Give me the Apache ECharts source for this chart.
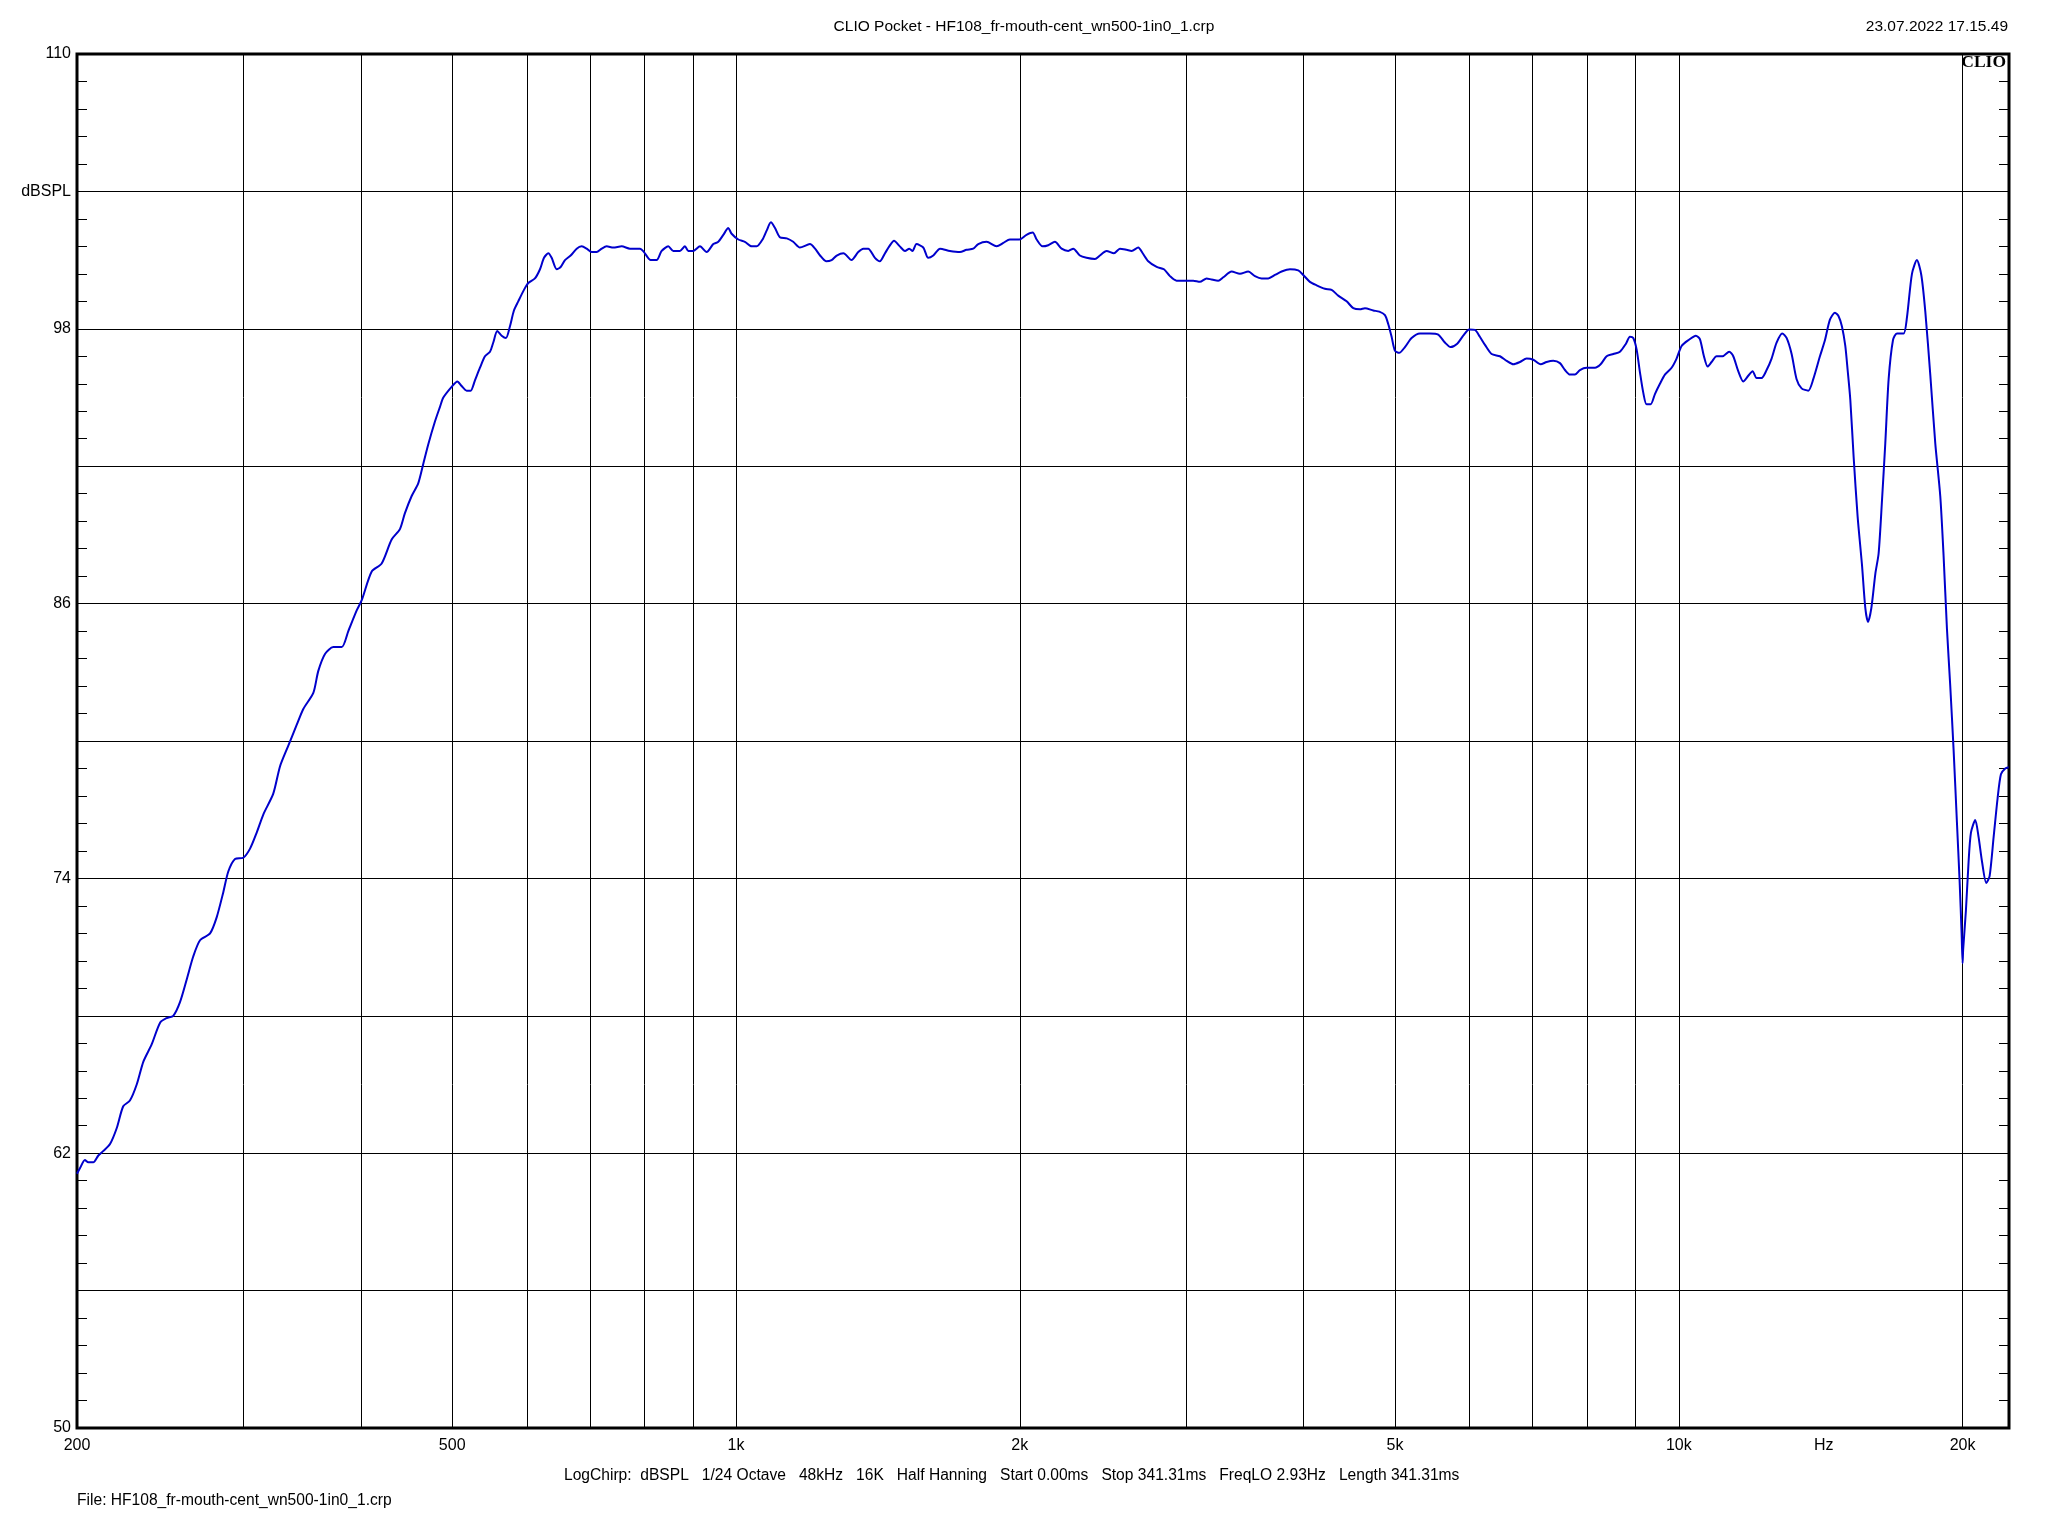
<!DOCTYPE html>
<html>
<head>
<meta charset="utf-8">
<script src="https://cdn.jsdelivr.net/npm/echarts@6/dist/echarts.min.js"></script>
<style>
html,body{margin:0;padding:0;background:#fff;}
#chart{width:2048px;height:1536px;}
</style>
</head>
<body>
<div id="chart"></div>
<script>
// ---- Data (frequency in Hz, level in dBSPL) ----
const riseHz = [200,201.5,203.9,205.6,208.1,210.7,213.3,216.8,220.4,223.9,227.6,231.4,235.2,240,245,249,253,257.2,261.5,265.7,270.1,276.8,281.3,285.9,289.4,294.2,300.2,305.2,310.2,315.3,323,328.4,335.1,342,347.6,356.2,360.5,366.5,374,381.8,388,396,400.9,410.8,420.9,431.3,440.1,445.5,452.9,460.2,465.9,471.6,479.4];
const riseDb = [61.1,61.35,61.7,61.6,61.6,61.9,62.1,62.4,63.1,64.05,64.3,65.0,66.0,66.75,67.7,67.9,68.0,68.6,69.6,70.6,71.3,71.6,72.3,73.4,74.3,74.85,74.9,75.3,76.0,76.8,77.7,78.9,79.8,80.7,81.4,82.1,83.05,83.8,84.1,84.1,84.8,85.7,86.15,87.4,87.75,88.8,89.25,89.95,90.7,91.25,92.1,92.95,93.95];

const midHz = [485.4,489.3,500.1,506.3,511.7,518,523.1,528.6,535.1,541.7,548.4,552.8,558.2,564.2,570.2,575.7,581.4,587.6,595.8,602.1,612,619.6,625.7,632.4,637.5,645.4,651.7,658.6,667.8,677.7,686,694.4,702.9,711.5,720.3,729.2,741.1,756.4,771.9,791,798.8,811.9,823.8,834,847.6,858.1,872.1,882.8,890.1,901,915.8,930.8,946.1,957.7,969.5,981.4,989.4,1005.7,1022,1039,1052,1067,1078,1089,1100,1113,1132,1150,1169,1198,1213,1228,1246,1263,1279,1300,1326,1348,1365,1381,1404,1421,1439,1454,1471,1492,1511,1527,1539,1554,1580,1599,1619,1646,1686];
const midDb = [94.6,95.0,95.5,95.7,95.5,95.3,95.3,95.75,96.3,96.8,97.0,97.4,97.9,97.7,97.6,98.1,98.8,99.2,99.7,100.0,100.2,100.6,101.1,101.3,101.1,100.6,100.7,101.0,101.2,101.5,101.6,101.5,101.35,101.35,101.5,101.6,101.55,101.6,101.5,101.5,101.35,101.0,101.0,101.4,101.6,101.4,101.4,101.6,101.4,101.4,101.6,101.35,101.7,101.8,102.1,102.4,102.15,101.9,101.8,101.6,101.6,101.9,102.3,102.65,102.4,102.0,101.95,101.8,101.55,101.7,101.5,101.2,100.95,101.0,101.2,101.3,101.0,101.35,101.5,101.5,101.1,100.95,101.3,101.6,101.85,101.6,101.4,101.5,101.4,101.7,101.55,101.1,101.2,101.5,101.4];

const upperHz = [1728,1756,1785,1807,1844,1890,1921,1952,1998,2033,2064,2084,2114,2144,2179,2215,2251,2279,2316,2354,2403,2432,2472,2517,2554,2596,2628,2671,2700,2737,2794,2844,2886,2933,2996,3055,3105,3156,3195,3247,3287,3355,3424,3494,3552,3610,3669,3729,3791,3869,3948,3997,4062,4129,4214,4283,4353,4443,4516,4590,4646,4742,4812,4879,4919,4959,4999,5052,5123,5207,5314,5445,5557,5648,5727,5821,5907,5994,6078,6152];
const upperDb = [101.35,101.45,101.5,101.7,101.8,101.6,101.75,101.9,101.9,102.1,102.2,101.9,101.6,101.65,101.8,101.5,101.4,101.5,101.2,101.1,101.05,101.2,101.4,101.3,101.5,101.45,101.4,101.55,101.3,100.95,100.7,100.6,100.3,100.1,100.1,100.1,100.05,100.2,100.15,100.1,100.25,100.5,100.4,100.5,100.3,100.2,100.2,100.35,100.5,100.6,100.55,100.35,100.05,99.9,99.75,99.7,99.45,99.2,98.9,98.85,98.9,98.8,98.75,98.6,98.2,97.65,97.05,96.95,97.2,97.6,97.8,97.8,97.75,97.4,97.2,97.35,97.7,97.97,97.95,97.65];

const trebleHz = [6229,6331,6461,6568,6675,6785,6896,7009,7136,7241,7360,7481,7573,7666,7760,7855,7984,8148,8262,8384,8522,8661,8789,8875,8948,9021,9095,9170,9244,9335,9434,9550,9667,9826,9946,10069,10234,10427,10529,10633,10729,10834,10967,11129,11311,11423,11563,11705,11849,11975,12093,12241,12392,12544,12698,12875,13012,13173,13334,13498,13720,13888,14116,14289,14465,14643,14774,14896,15018,15104,15203,15327,15477,15642,15771,15875,16004,16161,16292,16426,16559,16695,16872,17038,17317,17459,17673,17888,18081,18259,18482,18709,18938,19092,19250,19406,19566,19725,19854,19952,20000,20028,20163,20296,20412,20628,20797,20968,21190,21364,21574,21785,21963,22197,22379];
const trebleDb = [97.3,96.9,96.8,96.6,96.45,96.55,96.7,96.65,96.45,96.55,96.6,96.5,96.2,96.0,96.0,96.2,96.3,96.3,96.45,96.8,96.9,97.0,97.35,97.65,97.6,97.1,96.1,95.2,94.7,94.7,95.15,95.6,96.0,96.3,96.7,97.25,97.5,97.7,97.55,96.8,96.35,96.55,96.8,96.8,97.0,96.8,96.15,95.7,95.95,96.15,95.85,95.85,96.2,96.7,97.4,97.8,97.6,96.9,95.8,95.4,95.3,95.8,96.8,97.5,98.4,98.7,98.55,98.1,97.25,96.2,94.9,92.4,89.8,87.7,85.8,85.2,85.8,87.3,88.2,90.5,93.0,95.8,97.5,97.8,97.8,98.5,100.4,101.0,100.35,98.75,96.0,93.0,90.7,88.1,84.9,82.4,79.6,76.45,73.9,71.6,70.3,70.9,72.6,74.75,76.0,76.55,75.8,74.75,73.8,74.1,75.8,77.5,78.55,78.8,78.85];

// ---- Axes / ticks ----
const xMinHz = 200, xMaxHz = 22400;
const xGridHz = [300,400,500,600,700,800,900,1000,2000,3000,4000,5000,6000,7000,8000,9000,10000,20000];
const xLabelHz = [200,500,1000,2000,5000,10000,14250,20000];
const xLabelText = ['200','500','1k','2k','5k','10k','Hz','20k'];
const yMin = 50, yMax = 110, yStep = 6;
const yTickValues = [50,56,62,68,74,80,86,92,98,104,110];
const yTickText = ['50','','62','','74','','86','','98','dBSPL','110'];

// ---- Texts ----
const titleText = 'CLIO Pocket - HF108_fr-mouth-cent_wn500-1in0_1.crp';
const dateText = '23.07.2022 17.15.49';
const brandText = 'CLIO';
const infoText = 'LogChirp:  dBSPL   1/24 Octave   48kHz   16K   Half Hanning   Start 0.00ms   Stop 341.31ms   FreqLO 2.93Hz   Length 341.31ms';
const fileText = 'File: HF108_fr-mouth-cent_wn500-1in0_1.crp';

const allHz = riseHz.concat(midHz, upperHz, trebleHz);
const allDb = riseDb.concat(midDb, upperDb, trebleDb);
const seriesData = allHz.map((f, i) => [Math.log10(f), allDb[i]]);

const FONT = '"Liberation Sans", Arial, sans-serif';
const chart = echarts.init(document.getElementById('chart'), null, {renderer: 'canvas'});

function xLabelFormatter(v) {
  for (let i = 0; i < xLabelHz.length; i++) {
    if (Math.abs(Math.log10(xLabelHz[i]) - v) < 1e-6) return xLabelText[i];
  }
  return '';
}
function yLabelFormatter(v) {
  const i = yTickValues.indexOf(Math.round(v));
  return i >= 0 ? yTickText[i] : '';
}

const yAxisCommon = {
  type: 'value', min: yMin, max: yMax, interval: yStep,
  axisLine: {show: false},
  axisTick: {show: true, inside: true, length: 10, lineStyle: {color: '#000', width: 1}},
  minorTick: {show: true, splitNumber: 5, length: 10, lineStyle: {color: '#000', width: 1}},
  minorSplitLine: {show: false}
};

chart.setOption({
  animation: false,
  backgroundColor: '#ffffff',
  grid: {left: 77, top: 54, right: 39, bottom: 108, show: true, borderColor: '#000', borderWidth: 3, backgroundColor: 'transparent', containLabel: false},
  xAxis: {
    type: 'value',
    min: Math.log10(xMinHz), max: Math.log10(xMaxHz),
    axisLine: {show: false},
    axisTick: {show: false, customValues: xGridHz.map(f => Math.log10(f))},
    axisLabel: {
      show: true, customValues: xLabelHz.map(f => Math.log10(f)),
      formatter: xLabelFormatter, color: '#000', fontFamily: FONT, fontSize: 16, margin: 10
    },
    splitLine: {show: true, lineStyle: {color: '#000', width: 1}}
  },
  yAxis: [
    Object.assign({}, yAxisCommon, {
      position: 'left',
      axisLabel: {show: true, formatter: yLabelFormatter, color: '#000', fontFamily: FONT, fontSize: 16, margin: 6},
      splitLine: {show: true, lineStyle: {color: '#000', width: 1}}
    }),
    Object.assign({}, yAxisCommon, {
      position: 'right',
      axisLabel: {show: false},
      splitLine: {show: false}
    })
  ],
  series: [{
    type: 'line',
    data: seriesData,
    showSymbol: false,
    smooth: 0.25,
    clip: true,
    lineStyle: {color: '#0000cc', width: 2},
    z: 5
  }],
  graphic: [
    {type: 'text', left: 'center', top: 19, style: {text: titleText, fontFamily: FONT, fontSize: 15.5, fill: '#000'}},
    {type: 'text', right: 40, top: 19, style: {text: dateText, fontFamily: FONT, fontSize: 15.5, fill: '#000'}},
    {type: 'text', right: 42, top: 53, z: 10, style: {text: brandText, fontFamily: '"Liberation Serif", "Times New Roman", serif', fontWeight: 'bold', fontSize: 17.5, fill: '#000'}},
    {type: 'text', left: 564, top: 1468, style: {text: infoText, fontFamily: FONT, fontSize: 15.6, fill: '#000'}},
    {type: 'text', left: 77, top: 1493, style: {text: fileText, fontFamily: FONT, fontSize: 15.6, fill: '#000'}}
  ]
});
</script>
</body>
</html>
